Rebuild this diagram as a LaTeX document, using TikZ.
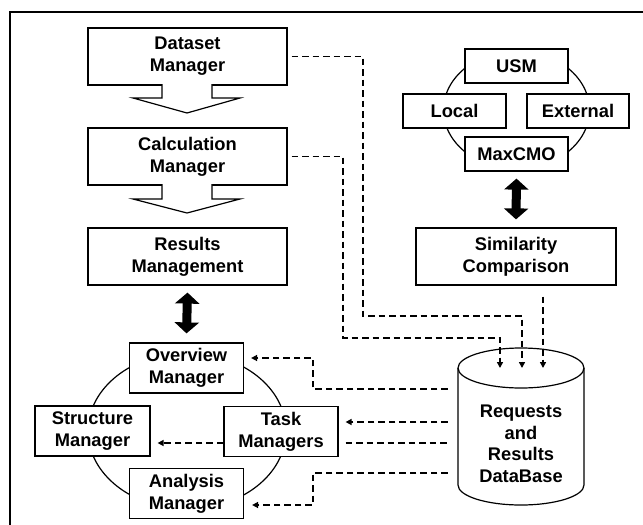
\documentclass[tikz,border=0pt]{standalone}
\usepackage{fontspec}
\setmainfont{Liberation Sans}
\usetikzlibrary{arrows.meta}

\begin{document}
\begin{tikzpicture}[x=1pt,y=-1pt,
  box/.style={draw,line width=1.2pt,fill=white,align=center,inner sep=0pt,
    font=\bfseries\fontsize{18.3}{22}\selectfont},
  wide/.style={box,minimum width=199pt,minimum height=57pt},
  small/.style={box,minimum width=103pt,minimum height=34pt},
  mgr/.style={box,minimum width=114pt,minimum height=50pt},
  link/.style={line width=1.5pt,dash pattern=on 6.5pt off 4pt},
  tip/.style={-{Triangle[length=6pt,width=6pt]}},
  dbl/.style={line width=9pt,{Triangle[length=11pt,width=24pt]}-{Triangle[length=11pt,width=24pt]}}]
\useasboundingbox (0,0) rectangle (643,525);
\draw[line width=2.5pt] (10,525) -- (10,12) -- (643,12);

% left column
\node[wide] (dm) at (187.5,56.5) {Dataset\\Manager};
\node[wide] (cm) at (187.5,156.5) {Calculation\\Manager};
\node[wide] (rm) at (187.5,256.5) {Results\\Management};
\draw[line width=1.2pt,fill=white] (162,84) -- (162,98) -- (133,98) -- (187,113) -- (240,98) -- (212,98) -- (212,84);
\draw[line width=1.2pt,fill=white] (162,184) -- (162,199) -- (133,199) -- (187,213) -- (240,199) -- (212,199) -- (212,184);

% managers round the circle
\draw[line width=1.2pt] (187,431) ellipse [x radius=99pt,y radius=78pt];
\node[mgr] (ov) at (186.5,368) {Overview\\Manager};
\node[mgr,minimum width=115pt] (st) at (92.5,431) {Structure\\Manager};
\node[mgr] (tm) at (281,431.5) {Task\\Managers};
\node[mgr] (an) at (186.5,493.5) {Analysis\\Manager};
\draw[dbl] ([yshift=-7pt]rm.south) -- ([yshift=9pt]ov.north);

% similarity methods
\draw[line width=1.2pt] (516.5,110) ellipse [x radius=73pt,y radius=59pt];
\node[small] (usm) at (516.5,66) {USM};
\node[small] (loc) at (454.5,111) {Local};
\node[small,minimum width=102pt] (ext) at (578,111) {External};
\node[small] (mcmo) at (516.5,154) {MaxCMO};
\node[wide,minimum width=200pt] (sc) at (516,256.5) {Similarity\\Comparison};
\draw[dbl] ([yshift=-7pt]mcmo.south) -- ([yshift=8pt]sc.north);

% database
\draw[line width=1.2pt] (458,368) -- (458,485) arc[start angle=180,end angle=360,x radius=63pt,y radius=20pt] -- (584,368);
\draw[line width=1.2pt] (521,368) ellipse [x radius=63pt,y radius=20pt];
\node[align=center,inner sep=0pt,minimum width=126pt,font=\bfseries\fontsize{18.3}{21.5}\selectfont] (db) at (521,444) {Requests\\and\\Results\\DataBase};
\coordinate (dbin1) at (500,368);
\coordinate (dbin2) at (522,368);
\coordinate (dbin3) at (543,368);

% requests into the database
\draw[link,tip,shorten <=4pt] (dm.east) -| (363,316) -| (dbin2);
\draw[link,tip,shorten <=4pt] (cm.east) -| (343,338) -| (dbin1);
\draw[link,tip,shorten <=11pt] ([xshift=27pt]sc.south) -- (dbin3);

% results out to the managers
\draw[link,tip,shorten <=10pt,shorten >=7pt] (db.west |- 0,389) -| (313,358) -- ([yshift=10pt]ov.east);
\draw[link,tip,shorten <=10pt,shorten >=7pt] (db.west |- 0,422) -- ([yshift=9.5pt]tm.east);
\draw[link,shorten <=7pt,shorten >=10pt] ([yshift=-11.5pt]tm.east) -- (db.west |- 0,443);
\draw[link,tip,shorten >=7pt] ([yshift=-11.5pt]tm.west) -- ([yshift=-12pt]st.east);
\draw[link,tip,shorten <=10pt,shorten >=8pt] (db.west |- 0,473) -| (313,505) -- ([yshift=-11.5pt]an.east);
\end{tikzpicture}
\end{document}
